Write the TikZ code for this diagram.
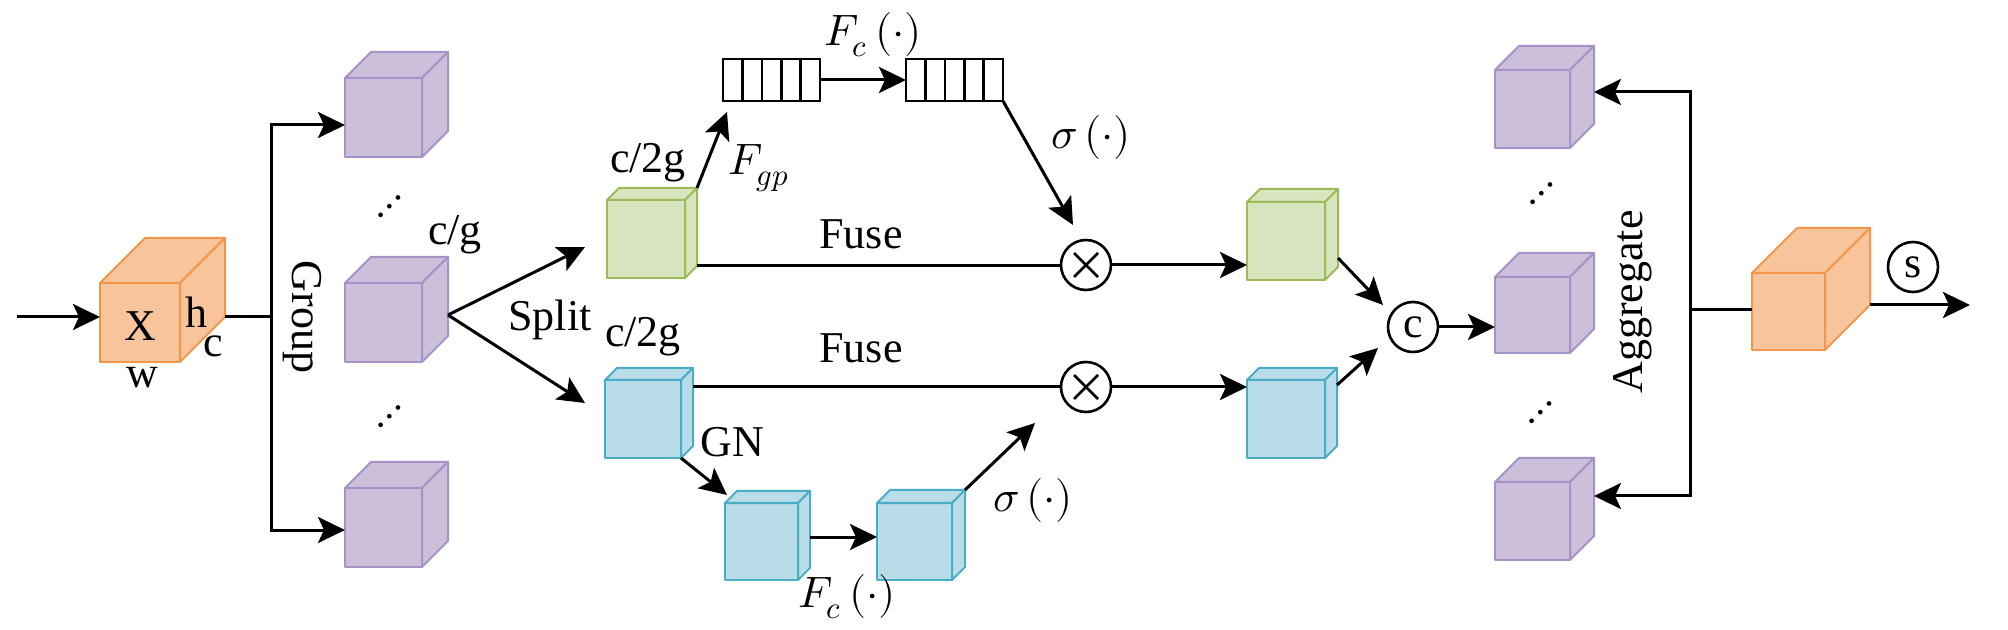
\documentclass[tikz,border=0pt]{standalone}
\usepackage{fontspec}
\usepackage{unicode-math}
\setmainfont{Liberation Serif}
\newfontfamily\figfont{Liberation Serif}
\setmathfont{Latin Modern Math}
\usetikzlibrary{calc,arrows.meta}

\definecolor{orf}{HTML}{F8C49B}
\definecolor{orl}{HTML}{F4964A}
\definecolor{puf}{HTML}{CBBFD9}
\definecolor{pul}{HTML}{A593C7}
\definecolor{grf}{HTML}{D7E4BE}
\definecolor{grl}{HTML}{9BBB59}
\definecolor{blf}{HTML}{B8DCE8}
\definecolor{bll}{HTML}{4BACC6}

\tikzset{
  cubeface/.style={draw, line width=1pt, inner sep=0pt, outer sep=0pt, line join=round},
  cubeedge/.style={line width=1pt, line join=round},
  conn/.style={line width=1.5pt},
  arr/.style={conn, -{Stealth[length=13.5pt,width=13pt,inset=3pt]}},
  lbl/.style={inner sep=0pt},
  opnode/.style={circle, draw, line width=1.3pt, minimum size=25pt, inner sep=0pt},
  otimesnode/.style={opnode, path picture={
      \draw[line width=1.3pt] ($(path picture bounding box.center)+(-12,-12)$) -- ($(path picture bounding box.center)+(12,12)$);
      \draw[line width=1.3pt] ($(path picture bounding box.center)+(-12,12)$) -- ($(path picture bounding box.center)+(12,-12)$);}},
  barbox/.style={draw, line width=1.3pt, fill=white, minimum width=48.5pt, minimum height=21pt, inner sep=0pt, outer sep=0pt},
}

% name, cx, cy, w, h, depth, colour prefix
\newcommand{\drawcube}[7]{%
  \node[cubeface, draw=#7l, fill=#7f, minimum width={#4*0.5pt}, minimum height={#5*0.5pt}] (#1) at (#2,#3) {};
  \coordinate (#1-tl) at ($(#1.north west)+(#6,-#6)$);
  \coordinate (#1-tr) at ($(#1.north east)+(#6,-#6)$);
  \coordinate (#1-br) at ($(#1.south east)+(#6,-#6)$);
  \draw[cubeedge, draw=#7l, fill=#7f] (#1.north west) -- (#1-tl) -- (#1-tr) -- (#1.north east) -- cycle;
  \draw[cubeedge, draw=#7l, fill=#7f] (#1.north east) -- (#1-tr) -- (#1-br) -- (#1.south east) -- cycle;
}

\begin{document}
\begin{tikzpicture}[x=0.5pt,y=-0.5pt, font=\figfont\fontsize{22}{26}\selectfont]
\useasboundingbox (0,0) rectangle (2008,630);

% cubes
\drawcube{X}{140}{322.5}{80}{79}{45}{or}
\drawcube{P1}{383.5}{117.5}{77}{79}{26}{pu}
\drawcube{P2}{383.5}{322.5}{77}{79}{26}{pu}
\drawcube{P3}{383.5}{527.5}{77}{79}{26}{pu}
\drawcube{G1}{646}{239}{78}{78}{12}{gr}
\drawcube{B1}{643}{419}{76}{78}{12}{bl}
\drawcube{B2}{761.5}{541.5}{73}{77}{12}{bl}
\drawcube{B3}{914.5}{541.5}{75}{77}{13}{bl}
\drawcube{G2}{1286}{241}{78}{78}{13}{gr}
\drawcube{B4}{1286}{419}{78}{78}{12}{bl}
\drawcube{Q1}{1532.5}{109}{75}{78}{24}{pu}
\drawcube{Q2}{1532.5}{315}{75}{76}{24}{pu}
\drawcube{Q3}{1532.5}{521}{75}{78}{24}{pu}
\drawcube{O}{1788.5}{311.5}{73}{77}{45}{or}

% labels on input cube
\node[lbl] (xl) at (140,326) {X};
\node[lbl] (hl) at (196,312) {h};
\node[lbl] (cl) at (213,346) {c};
\node[lbl] (wl) at (142,378) {w};

% input and grouping
\coordinate (in) at (17,317);
\draw[arr] (in) -- (in -| X.west);
\coordinate (g) at (271,317);
\coordinate (gt) at (271,125);
\coordinate (gb) at (271,530);
\draw[conn] (X-br) -- (g);
\draw[arr] (g) -- (gt) -- (gt -| P1.west);
\draw[arr] (g) -- (gb) -- (gb -| P3.west);
\node[lbl, rotate=-90] (grp) at (302,317) {Group};
\node[lbl, rotate=45] (d1) at (393,210) {$\cdots$};
\node[lbl, rotate=45] (d2) at (393,420) {$\cdots$};
\node[lbl] (cg) at (455,235) {c/g};

% split
\coordinate (sp) at (448,315);
\coordinate (sa) at (585,247);
\coordinate (sb) at (585,403);
\draw[arr] (sp) -- (sa);
\draw[arr] (sp) -- (sb);
\node[lbl] (spl) at (550,320) {Split};
\node[lbl] (c2g1) at (648,163) {c/2g};
\node[lbl] (c2g2) at (643,337) {c/2g};

% channel branch
\node[barbox] (bar1) at (771.5,80) {};
\node[barbox] (bar2) at (954.5,80) {};
\foreach \b in {bar1,bar2}{
  \foreach \i in {1,...,4}{
    \draw[line width=1.3pt] ($(\b.north west)!\i/5!(\b.north east)$) -- ($(\b.south west)!\i/5!(\b.south east)$);
  }
}
\coordinate (fgp) at (727,112);
\draw[arr] (G1-tr) -- (fgp);
\node[lbl] (fgpl) at (759,168) {$F_{gp}$};
\draw[arr] (bar1.east) -- (bar2.west);
\node[lbl] (fc1) at (873,35) {$F_c\,(\cdot)$};

\node[otimesnode] (M1) at (1086,265) {};
\node[otimesnode] (M2) at (1086,387) {};
\coordinate (s1) at (1073,225);
\draw[arr] (bar2.south east) -- (s1);
\node[lbl] (sig1) at (1091,138) {$\sigma\,(\cdot)$};
\draw[conn] (G1-br) -- (G1-br -| M1.west);
\node[lbl] (fuse1) at (861,234) {Fuse};

% spatial branch
\draw[conn] (B1-tr |- M2) -- (M2.west);
\node[lbl] (fuse2) at (861,348) {Fuse};
\node[lbl] (gn) at (732,442) {GN};
\coordinate (gnt) at (727,495);
\draw[arr] (B1.south east) -- (gnt);
\coordinate (fc2s) at (810,537);
\draw[arr] (fc2s) -- (fc2s -| B3.west);
\node[lbl] (fc2) at (847,597) {$F_c\,(\cdot)$};
\coordinate (s2) at (1035,423);
\draw[arr] (B3-tr) -- (s2);
\node[lbl] (sig2) at (1033,500) {$\sigma\,(\cdot)$};

% fuse outputs and concat
\draw[arr] (M1.east) -- (M1.east -| G2.west);
\draw[arr] (M2.east) -- (M2.east -| B4.west);
\node[opnode] (C) at (1413,327) {c};
\coordinate (c1) at (1383,305);
\coordinate (c2) at (1378,348);
\draw[arr] ($(G2-br)+(0,-9)$) -- (c1);
\draw[arr] ($(B4-tr)+(0,17)$) -- (c2);
\draw[arr] (C.east) -- (C.east -| Q2.west);
\node[lbl, rotate=45] (d3) at (1545,197) {$\cdots$};
\node[lbl, rotate=45] (d4) at (1544,416) {$\cdots$};

% aggregate
\coordinate (a) at (1690,310);
\coordinate (at) at (1690,92);
\coordinate (ab) at (1690,496);
\draw[arr] (a) -- (at) -- (at -| Q1-tr);
\draw[arr] (a) -- (ab) -- (ab -| Q3-tr);
\draw[conn] (O.west |- a) -- (a);
\node[lbl, rotate=90] (agg) at (1633,302) {Aggregate};

% output
\coordinate (out) at (1970,305);
\draw[arr] (O-br) -- (out);
\node[opnode, minimum size=25pt] (S) at (1913,267) {s};
\end{tikzpicture}
\end{document}
